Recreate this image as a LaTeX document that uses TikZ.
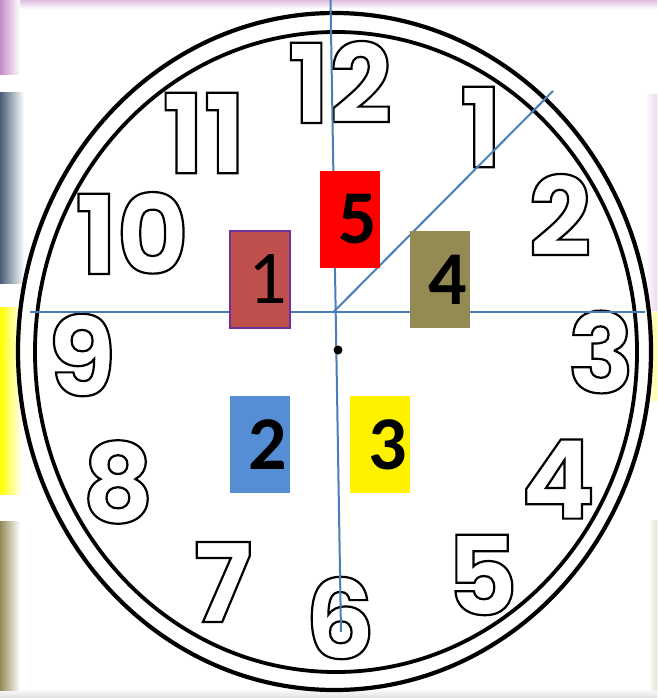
\documentclass[tikz,border=0pt]{standalone}
\usepackage{fontspec}
\setmainfont{Carlito}
\newfontfamily\dialfont{Poppins}
\usepackage{xcolor}
\usetikzlibrary{positioning}

\definecolor{handblue}{HTML}{4A7EBB}
\definecolor{tileone}{HTML}{C0504D}
\definecolor{tileedge}{HTML}{7030A0}
\definecolor{tiletwo}{HTML}{558ED5}
\definecolor{tilefour}{HTML}{948A54}
\definecolor{stripslate}{HTML}{4B5D78}

% hollow (stroked) glyphs for the clock numerals
\newcommand{\hollow}[1]{\special{pdf:literal direct 1 Tr 2.2 w}#1\special{pdf:literal direct 0 Tr}}

\begin{document}
\begin{tikzpicture}[x=1pt,y=-1pt]
  \tikzstyle{tile} = [rectangle, inner sep=0pt, minimum width=60pt, minimum height=97pt, font=\fontsize{76}{76}\selectfont\bfseries]
  \tikzstyle{dial} = [inner sep=0pt, font=\fontsize{110}{110}\selectfont\dialfont\bfseries]
  \tikzstyle{hand} = [draw=handblue, line width=2pt]

  \useasboundingbox (0,0) rectangle (657,698);

  % screenshot edges
  \shade[top color=violet!25, bottom color=white] (0,0) rectangle (657,9);
  \shade[top color=white, bottom color=black!12] (0,688) rectangle (657,698);
  \shade[left color=violet!45, right color=white] (0,0) rectangle (20,75);
  \shade[left color=stripslate, right color=white] (0,93) rectangle (24,283);
  \shade[left color=yellow, right color=white] (0,307) rectangle (22,494);
  \shade[left color=tilefour, right color=white] (0,521) rectangle (20,690);
  \shade[left color=white, right color=violet!15] (645,95) rectangle (657,310);
  \shade[left color=white, right color=yellow!45] (648,312) rectangle (657,400);
  \shade[left color=white, right color=tilefour!25] (648,520) rectangle (657,690);

  % rim
  \draw[line width=4.2pt] (334.5,351.5) ellipse [x radius=316.5, y radius=338.5];
  \draw[line width=3.8pt] (336,352) ellipse [x radius=301, y radius=320];

  % numerals
  \node[dial] (n12) at (340,82) {\hollow{12}};
  \node[dial] (n1) at (481,127) {\hollow{1}};
  \node[dial] (n2) at (560,215) {\hollow{2}};
  \node[dial] (n3) at (601,352) {\hollow{3}};
  \node[dial] (n4) at (558,479) {\hollow{4}};
  \node[dial] (n5) at (482,575) {\hollow{5}};
  \node[dial] (n6) at (340,618) {\hollow{6}};
  \node[dial] (n7) at (223,582) {\hollow{7}};
  \node[dial] (n8) at (118,482) {\hollow{8}};
  \node[dial] (n9) at (82,355) {\hollow{9}};
  \node[dial] (n10) at (132,233) {\hollow{10}};
  \node[dial] (n11) at (204,133) {\hollow{11}};

  % hands
  \coordinate (west) at (30,312);
  \coordinate (east) at (645,312);
  \coordinate (top) at (330.5,0);
  \coordinate (bottom) at (341,632);
  \coordinate (hub) at (333.5,312);
  \coordinate (one) at (553,91);
  \draw[hand] (west) -- (east);
  \draw[hand] (top) -- (bottom);
  \draw[hand] (hub) -- (one);
  \fill (338,350) circle (4.5);

  % numbered tiles
  \node[tile, fill=tileone, draw=tileedge, line width=2pt, font=\fontsize{76}{76}\selectfont] (t1) at (260,279) {\hspace{16pt}1};
  \node[tile, fill=tiletwo] (t2) at (260,444.5) {\hspace{16pt}2};
  \node[tile, fill=yellow] (t3) at (380,444.5) {\hspace{16pt}3};
  \node[tile, fill=tilefour] (t4) at (440,279.5) {\hspace{16pt}4};
  \node[tile, fill=red] (t5) at (350,219.5) {\hspace{16pt}5};
\end{tikzpicture}
\end{document}
